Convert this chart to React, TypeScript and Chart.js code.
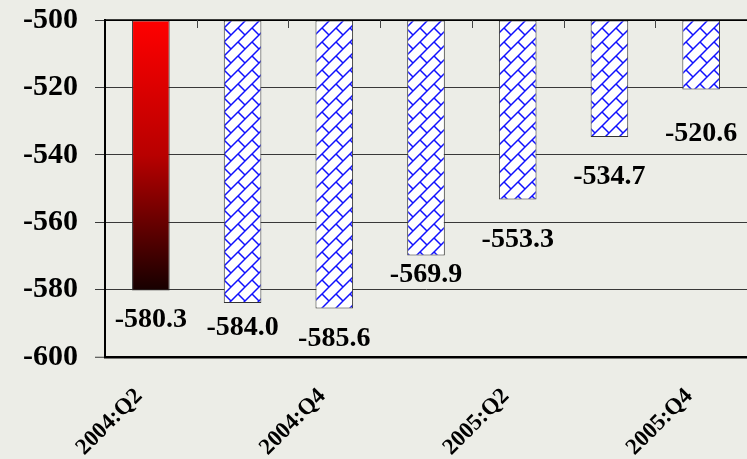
import React, { useEffect, useRef } from 'react';
import { Chart, registerables } from 'chart.js';

Chart.register(...registerables);

const categories = ['2004:Q2', '2004:Q3', '2004:Q4', '2005:Q1', '2005:Q2', '2005:Q3', '2005:Q4'];
const values = [-580.3, -584.0, -585.6, -569.9, -553.3, -534.7, -520.6];
const valueLabels = ['-580.3', '-584.0', '-585.6', '-569.9', '-553.3', '-534.7', '-520.6'];
const shownTickLabels = ['2004:Q2', '', '2004:Q4', '', '2005:Q2', '', '2005:Q4'];
const yMin = -600;
const yMax = -500;
const yStep = 20;
const barBase = -500;
// label baseline distance (px) below each bar's end, as placed in the original
const labelOffsets = [36, 32, 38, 26, 47, 47, 52];

const FONT = '"Liberation Serif", "Times New Roman", serif';
const BG = '#ECEDE7';

function makeBrickPattern(ctx: CanvasRenderingContext2D): CanvasPattern | string {
  const s = 14;
  const c = document.createElement('canvas');
  c.width = s;
  c.height = s;
  const g = c.getContext('2d');
  if (!g) return '#ffffff';
  g.fillStyle = '#ffffff';
  g.fillRect(0, 0, s, s);
  g.strokeStyle = '#1010ff';
  g.lineWidth = 1.5;
  g.beginPath();
  g.moveTo(-1, s + 1);
  g.lineTo(s + 1, -1);
  g.moveTo(-2, 2);
  g.lineTo(2, -2);
  g.moveTo(s - 2, s + 2);
  g.lineTo(s + 2, s - 2);
  g.moveTo(0, 0);
  g.lineTo(s / 2, s / 2);
  g.moveTo(s, s);
  g.lineTo(s + 1, s + 1);
  g.stroke();
  return ctx.createPattern(c, 'repeat') || '#ffffff';
}

const topTicksPlugin = {
  id: 'topTicks',
  afterDatasetsDraw(chart: any) {
    const { ctx, chartArea, scales } = chart;
    const x = scales.x;
    ctx.save();
    ctx.strokeStyle = '#000';
    ctx.lineWidth = 1.5;
    ctx.beginPath();
    ctx.moveTo(chartArea.left, chartArea.top);
    ctx.lineTo(chartArea.right, chartArea.top);
    ctx.stroke();
    ctx.strokeStyle = '#444';
    ctx.lineWidth = 1;
    for (let i = 1; i < categories.length; i++) {
      const px = Math.round((x.getPixelForValue(i - 1) + x.getPixelForValue(i)) / 2) + 0.5;
      ctx.beginPath();
      ctx.moveTo(px, chartArea.top);
      ctx.lineTo(px, chartArea.top + 8);
      ctx.stroke();
    }
    ctx.restore();
  },
};

const valueLabelPlugin = {
  id: 'valueLabels',
  afterDatasetsDraw(chart: any) {
    const { ctx } = chart;
    const meta = chart.getDatasetMeta(0);
    ctx.save();
    ctx.font = `bold 28px ${FONT}`;
    ctx.fillStyle = '#000';
    ctx.textAlign = 'center';
    ctx.textBaseline = 'alphabetic';
    meta.data.forEach((bar: any, i: number) => {
      ctx.fillText(valueLabels[i], bar.x, bar.y + labelOffsets[i]);
    });
    ctx.restore();
  },
};

export default function App() {
  const ref = useRef<HTMLCanvasElement | null>(null);

  useEffect(() => {
    const canvas = ref.current;
    if (!canvas) return;
    const ctx2d = canvas.getContext('2d') as CanvasRenderingContext2D;
    const pattern = makeBrickPattern(ctx2d);

    const chart = new Chart(canvas, {
      type: 'bar',
      data: {
        labels: categories,
        datasets: [
          {
            data: values,
            base: barBase,
            backgroundColor: (c: any) => {
              if (c.dataIndex !== 0) return pattern;
              const ch = c.chart;
              const ys = ch.scales && ch.scales.y;
              if (!ys || !ch.chartArea) return '#cc0000';
              const y0 = ys.getPixelForValue(barBase);
              const y1 = ys.getPixelForValue(values[0]);
              const grad = ch.ctx.createLinearGradient(0, y0, 0, y1);
              grad.addColorStop(0, '#ff0000');
              grad.addColorStop(0.5, '#b80000');
              grad.addColorStop(1, '#160000');
              return grad;
            },
            borderColor: '#333333',
            borderWidth: 1,
            borderSkipped: false,
            barPercentage: 0.41,
            categoryPercentage: 1,
          } as any,
        ],
      },
      options: {
        responsive: false,
        animation: false,
        layout: { padding: { top: 20, right: 0, left: 0, bottom: 0 } },
        plugins: {
          legend: { display: false },
          tooltip: { enabled: false },
        },
        scales: {
          x: {
            grid: { display: false, drawTicks: false },
            border: { display: false },
            ticks: {
              autoSkip: false,
              maxRotation: 45,
              minRotation: 45,
              padding: 26,
              labelOffset: -12,
              color: '#000',
              font: { family: FONT, size: 23, weight: 'bold' },
              callback: (_v: any, i: number) => shownTickLabels[i],
            },
            afterFit: (s: any) => {
              s.height = 102;
              s.paddingLeft = 0;
              s.paddingRight = 0;
            },
          },
          y: {
            min: yMin,
            max: yMax,
            ticks: {
              stepSize: yStep,
              padding: 17,
              color: '#000',
              font: { family: FONT, size: 30, weight: 'bold' },
            },
            grid: {
              color: (c: any) => (c.tick && (c.tick.value === yMin || c.tick.value === yMax) ? '#000' : '#383838'),
              lineWidth: (c: any) => (c.tick && c.tick.value === yMin ? 2.5 : 1),
              tickLength: 10,
              tickColor: '#383838',
              tickWidth: 1,
            },
            border: { display: true, color: '#000', width: 2 },
            afterFit: (s: any) => {
              s.width = 105;
              s.paddingTop = 0;
              s.paddingBottom = 0;
            },
          },
        },
      } as any,
      plugins: [topTicksPlugin, valueLabelPlugin],
    });

    return () => chart.destroy();
  }, []);

  return (
    <div style={{ position: 'absolute', left: 0, top: 0, width: 747, height: 459, background: BG }}>
      <canvas ref={ref} width={747} height={459} style={{ display: 'block' }} />
    </div>
  );
}
